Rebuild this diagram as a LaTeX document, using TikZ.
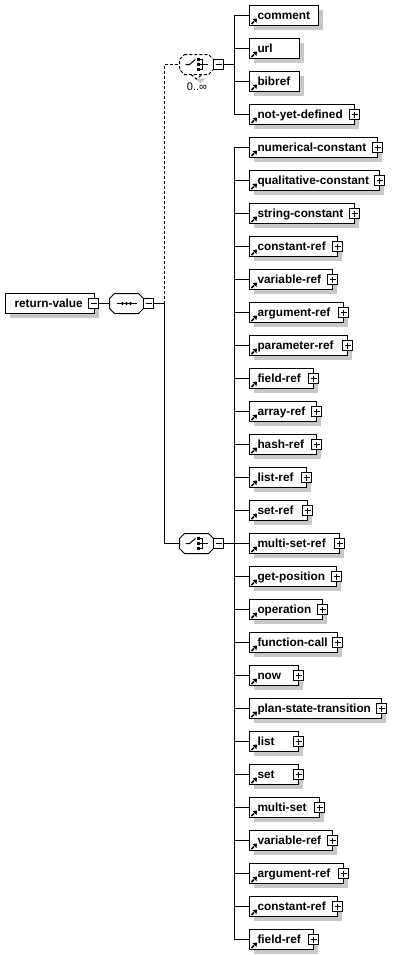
\documentclass[tikz,border=0pt]{standalone}
\usepackage{fontspec}
\setmainfont{Liberation Sans}
\newfontfamily\boxfont{Liberation Sans Bold}
\definecolor{shadowgray}{RGB}{200,200,200}
\tikzset{
  x=1bp,y=-1bp,
  wire/.style={draw=black,line width=1bp},
  itembox/.style={rectangle,draw=black,fill=white,line width=1bp,anchor=west,align=left,outer sep=0pt,
    inner xsep=0pt,inner ysep=0pt,minimum height=20bp,text height=8bp,text depth=0pt,
    font=\boxfont\fontsize{11.8bp}{12bp}\selectfont},
  ctrl/.style={rectangle,draw=black,fill=white,line width=1bp,minimum size=10bp,inner sep=0pt,outer sep=0pt},
  minusbox/.style={ctrl,path picture={\draw[line width=1bp]
     ([xshift=2bp]path picture bounding box.west)--([xshift=-2bp]path picture bounding box.east);}},
  plusbox/.style={ctrl,path picture={\draw[line width=1bp]
     ([xshift=2bp]path picture bounding box.west)--([xshift=-2bp]path picture bounding box.east)
     ([yshift=-2bp]path picture bounding box.north)--([yshift=2bp]path picture bounding box.south);}},
  compositor/.style={rectangle,minimum width=34bp,minimum height=20bp,inner sep=0pt,outer sep=0pt},
  optional/.style={densely dashed},
  occurs/.style={font=\fontsize{11bp}{12bp}\selectfont,inner sep=0pt}
}
\newcommand{\octpath}[1]{([xshift=5bp]#1.north west)--([xshift=-5bp]#1.north east)--([yshift=-5bp]#1.north east)--([yshift=5bp]#1.south east)--([xshift=-5bp]#1.south east)--([xshift=5bp]#1.south west)--([yshift=5bp]#1.south west)--([yshift=-5bp]#1.north west)--cycle}
\newcommand{\octshadow}[1]{\begin{scope}[shift={(4,4)}]\fill[shadowgray] \octpath{#1};\end{scope}}
\newcommand{\linkmark}[1]{%
  \draw[line width=1.6bp] ([xshift=2bp,yshift=1.5bp]#1.south west)--([xshift=4.5bp,yshift=4bp]#1.south west);
  \fill ([xshift=7.5bp,yshift=7bp]#1.south west)--([xshift=3bp,yshift=6.5bp]#1.south west)--([xshift=7bp,yshift=2.5bp]#1.south west)--cycle;
}
\newcommand{\choiceicon}[1]{%
  \draw[line width=1bp] ([xshift=-11bp]#1.center)--([xshift=-7bp]#1.center)--([xshift=-1bp,yshift=5bp]#1.center);
  \fill ([xshift=0bp,yshift=3.5bp]#1.center) rectangle ([xshift=3bp,yshift=6.5bp]#1.center);
  \fill ([xshift=0bp,yshift=-1.5bp]#1.center) rectangle ([xshift=3bp,yshift=1.5bp]#1.center);
  \fill ([xshift=0bp,yshift=-6.5bp]#1.center) rectangle ([xshift=3bp,yshift=-3.5bp]#1.center);
  \draw[line width=1bp] ([xshift=3bp,yshift=5bp]#1.center)-|([xshift=6bp,yshift=-5bp]#1.center)--([xshift=3bp,yshift=-5bp]#1.center)
     ([xshift=3bp]#1.center)--([xshift=11bp]#1.center);
}
\begin{document}
\begin{tikzpicture}
\useasboundingbox[fill=white] (0,0) rectangle (402,955);
% root
\fill[shadowgray] (9.5,297.5) rectangle (98.5,317.5);
\node[itembox,text width=89bp] (root) at (5.5,303.5) {\hspace{9bp}return-value};
\node[minusbox] (rootminus) at (93.5,303.5) {};
\node[compositor] (seq) at (126.5,303.5) {};
\octshadow{seq}
\draw[wire,fill=white] \octpath{seq};
\node[minusbox] (seqminus) at (148.5,303.5) {};
\draw[wire] (rootminus)--(seq.west);
\draw[wire] ([xshift=-10bp]seq.center)--([xshift=10bp]seq.center);
\foreach \d in {-4,0,4} \fill ([xshift=\d bp]seq.center) circle (1.7bp);
\coordinate (trunk) at (164.5,303.5);
\draw[wire] (seqminus)--(trunk);
% upper choice
\node[compositor] (upper) at (196.5,64.5) {};
\octshadow{upper}
\fill[shadowgray] (195,78.5)--(200.5,83)--(206,78.5)--cycle;
\fill[white] \octpath{upper};
\draw[wire,optional] \octpath{upper};
\draw[wire,optional] (191,74.5)--(196.5,79)--(202,74.5);
\choiceicon{upper}
\node[minusbox] (upperminus) at (218.5,64.5) {};
\node[occurs] (occ) at (197,87) {0..∞};
\draw[wire,optional] (trunk)|-(upper.west);
\coordinate (busa) at (234.5,64.5);
\draw[wire] (upperminus)--(busa);
% lower choice
\node[compositor] (lower) at (196.5,543.5) {};
\octshadow{lower}
\draw[wire,fill=white] \octpath{lower};
\choiceicon{lower}
\node[minusbox] (lowerminus) at (218.5,543.5) {};
\draw[wire] (trunk)|-(lower.west);
\coordinate (busb) at (234.5,543.5);
\draw[wire] (lowerminus)--(busb);
% items
\foreach \i/\lab/\R/\pl in {
 0/comment/318/0,1/url/299/0,2/bibref/299/0,3/not-yet-defined/354/1,
 4/numerical-constant/377/1,5/qualitative-constant/379/1,6/string-constant/354/1,
 7/constant-ref/337/1,8/variable-ref/332/1,9/argument-ref/343/1,10/parameter-ref/347/1,
 11/field-ref/313/1,12/array-ref/316/1,13/hash-ref/316/1,14/list-ref/306/1,15/set-ref/307/1,
 16/multi-set-ref/339/1,17/get-position/336/1,18/operation/322/1,19/function-call/337/1,
 20/now/298/1,21/plan-state-transition/381/1,22/list/298/1,23/set/298/1,24/multi-set/319/1,
 25/variable-ref/332/1,26/argument-ref/343/1,27/constant-ref/337/1,28/field-ref/313/1}{
  \pgfmathsetmacro{\yy}{15.5+33*\i}
  \pgfmathsetmacro{\ww}{\R-249}
  \pgfmathsetmacro{\ya}{\yy-6}
  \pgfmathsetmacro{\yb}{\yy+14}
  \pgfmathsetmacro{\xb}{\R+4.5}
  \fill[shadowgray] (253.5,\ya) rectangle (\xb,\yb);
  \node[itembox,minimum width=\ww bp,text width=\ww bp] (box\i) at (249.5,\yy) {\hspace{8bp}\lab};
  \linkmark{box\i}
  \ifnum\pl=1
    \node[plusbox] (plus\i) at (box\i.east) {};
  \fi
}
% buses
\draw[wire] (box0.west)-|(busa);
\draw[wire] (box3.west)-|(busa);
\draw[wire] (box1.west)--(box1.west-|busa);
\draw[wire] (box2.west)--(box2.west-|busa);
\draw[wire] (box4.west)-|(busb);
\draw[wire] (box28.west)-|(busb);
\foreach \i in {5,...,27} \draw[wire] (box\i.west)--(box\i.west-|busb);
\end{tikzpicture}
\end{document}
